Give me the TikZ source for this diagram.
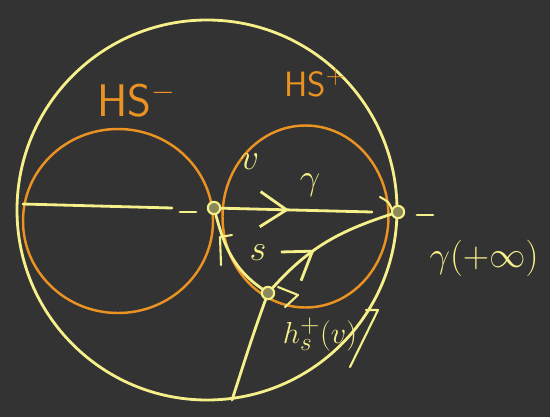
\documentclass[tikz,border=0pt]{standalone}
\usetikzlibrary{arrows.meta, calc, decorations.markings}
\definecolor{board}{HTML}{333333}
\definecolor{chalk}{HTML}{F6F08A}
\definecolor{amber}{HTML}{EA9222}

\begin{document}
\begin{tikzpicture}[x=0.02cm,y=0.02cm,line cap=round,line join=round,
  yel/.style={draw=chalk,line width=1.6pt},
  org/.style={draw=amber,line width=1.4pt},
  pt/.style={circle,draw=chalk,fill=chalk!45!board,line width=1.2pt,inner sep=0pt,minimum size=7pt},
  lbl/.style={text=chalk,font=\fontsize{22}{24}\selectfont},
  hs/.style={text=amber,font=\sffamily\fontsize{26}{28}\selectfont},
  midarrow/.style={postaction={decorate},decoration={markings,mark=at position #1 with {\arrow[chalk,line width=1.6pt]{Straight Barb[length=15pt,width=20pt]}}}}]
\fill[board] (0,0) rectangle (550,417);
\draw[yel] (207,207) circle[radius=190];
\draw[org] (118,196) ellipse[x radius=95,y radius=92];
\draw[org] (305.5,200.5) ellipse[x radius=83,y radius=91];
\coordinate (L) at (23,213);
\coordinate (Lend) at (172,209);
\coordinate (d1) at (180,205);
\coordinate (d2) at (196,205);
\coordinate (gend) at (372,205);
\coordinate (d3) at (417,202);
\coordinate (d4) at (433,202);
\coordinate (bot) at (232,17);
\node[pt] (A) at (214,209) {};
\node[pt] (gp) at (398,205) {};
\node[pt] (P) at (268,124) {};
\draw[yel] (L) -- (Lend);
\draw[yel] (d1) -- (d2);
\draw[yel,midarrow=0.45] (A) -- (gend);
\draw[yel] (d3) -- (d4);
\draw[yel] (bot) to[out=72,in=250] (P);
\draw[yel,midarrow=0.4] (P) to[out=48,in=198] (gp);
\draw[yel] (A) to[out=-75,in=145] (P);
\draw[yel,line width=1.2pt] (221,152) -- (220,180) -- (232,182);
\draw[yel,line width=1.2pt] (278,130) -- (298,122) -- (285,110);
\draw[yel,line width=1.2pt] (366,107) -- (378,107) -- (350,50);
\draw[yel,line width=1.2pt] (380,220) .. controls (389,215) .. (392,207);
\node[hs] (hsm) at (137,317) {HS$^{-}$};
\node[hs,font=\sffamily\fontsize{20}{22}\selectfont] (hsp) at (315,334) {HS$^{+}$};
\node[lbl] (gam) at (310,232) {$\gamma$};
\node[lbl] (vv) at (250,255) {$v$};
\node[lbl] (ss) at (258,164) {$s$};
\node[lbl,font=\fontsize{19}{21}\selectfont] (hor) at (320,83) {$h_s^+(v)$};
\node[lbl] (ginf) at (484,159) {$\gamma(+\infty)$};
\end{tikzpicture}
\end{document}
